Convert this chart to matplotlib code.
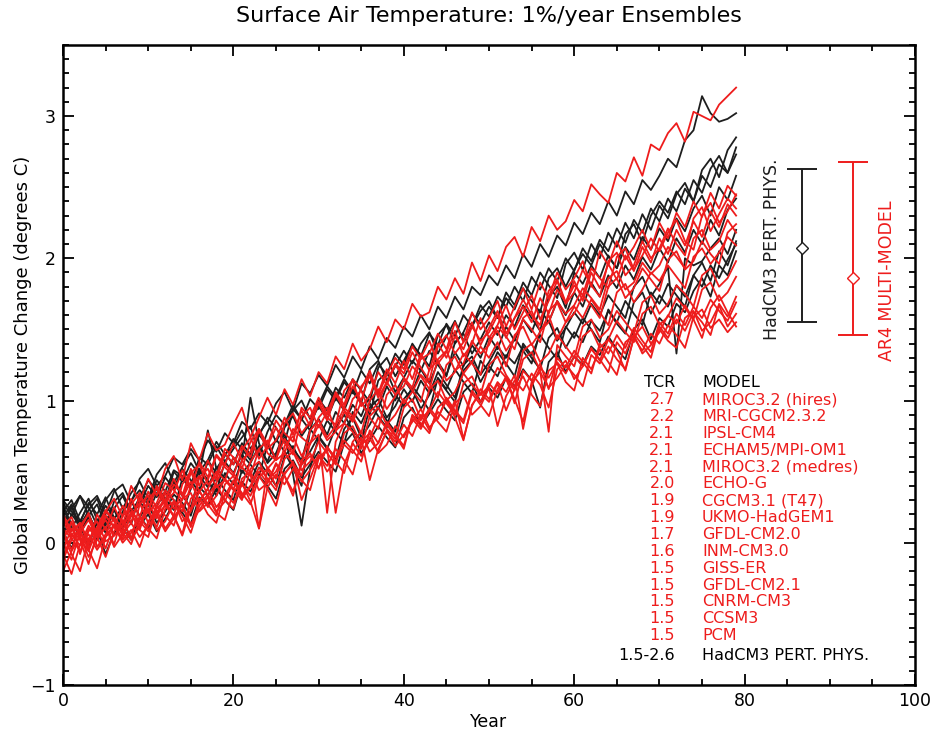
import numpy as np
import matplotlib.pyplot as plt
from matplotlib.ticker import MultipleLocator

plt.rc('font', family='DejaVu Sans')

years = np.arange(80)

# AR4 multi-model 1%/yr runs (red)
miroc_hires = [0.08, -0.05, 0.12, 0.20, 0.06, 0.22, 0.31, 0.18, 0.40, 0.29,
               0.45, 0.33, 0.52, 0.61, 0.44, 0.70, 0.58, 0.77, 0.65, 0.69,
               0.83, 0.95, 0.74, 0.88, 1.02, 0.90, 1.08, 0.97, 1.15, 1.03,
               1.20, 1.12, 1.31, 1.22, 1.40, 1.28, 1.36, 1.52, 1.41, 1.57,
               1.50, 1.68, 1.59, 1.62, 1.80, 1.71, 1.86, 1.75, 1.97, 1.84,
               2.02, 1.91, 2.08, 2.15, 2.01, 2.22, 2.12, 2.30, 2.20, 2.26,
               2.41, 2.33, 2.52, 2.45, 2.39, 2.60, 2.54, 2.71, 2.58, 2.80,
               2.76, 2.88, 2.95, 2.82, 3.03, 3.00, 2.97, 3.08, 3.14, 3.20]
mri_cgcm = [0.02, 0.15, -0.08, 0.10, 0.04, 0.19, 0.11, 0.26, 0.14, 0.33,
            0.22, 0.40, 0.29, 0.35, 0.51, 0.38, 0.57, 0.46, 0.62, 0.55,
            0.70, 0.58, 0.64, 0.80, 0.69, 0.86, 0.77, 0.71, 0.95, 0.88,
            1.02, 0.90, 1.06, 0.97, 1.15, 1.08, 1.21, 1.04, 1.18, 1.30,
            1.22, 1.38, 1.29, 1.33, 1.47, 1.36, 1.55, 1.41, 1.62, 1.50,
            1.58, 1.70, 1.52, 1.66, 1.79, 1.64, 1.83, 1.72, 1.90, 1.78,
            1.86, 1.98, 1.80, 2.05, 1.95, 2.12, 1.99, 2.08, 2.20, 2.06,
            2.25, 2.14, 2.32, 2.22, 2.40, 2.29, 2.46, 2.35, 2.51, 2.44]
ipsl_cm4 = [-0.10, 0.05, 0.14, -0.02, 0.20, 0.09, 0.25, 0.13, 0.31, 0.18,
            0.36, 0.24, 0.30, 0.45, 0.33, 0.52, 0.40, 0.58, 0.44, 0.63,
            0.55, 0.68, 0.60, 0.79, 0.66, 0.72, 0.88, 0.76, 0.93, 0.82,
            0.98, 0.86, 1.04, 0.95, 1.10, 1.00, 1.18, 1.05, 1.22, 1.12,
            1.28, 1.15, 1.33, 1.21, 1.40, 1.30, 1.45, 1.36, 1.52, 1.42,
            1.48, 1.60, 1.44, 1.58, 1.66, 1.55, 1.72, 1.61, 1.78, 1.69,
            1.84, 1.70, 1.90, 1.79, 1.96, 1.85, 2.02, 1.91, 2.08, 1.97,
            2.14, 2.03, 2.20, 2.09, 2.26, 2.15, 2.33, 2.22, 2.38, 2.30]
echam5 = [0.12, 0.18, 0.03, -0.06, 0.10, 0.22, 0.15, 0.08, 0.27, 0.35,
          0.21, 0.28, 0.42, 0.37, 0.30, 0.49, 0.55, 0.41, 0.47, 0.66,
          0.60, 0.52, 0.71, 0.80, 0.63, 0.58, 0.84, 0.91, 0.77, 0.85,
          0.99, 0.88, 0.83, 1.07, 1.14, 0.96, 1.03, 1.20, 1.11, 1.25,
          1.16, 1.09, 1.30, 1.42, 1.26, 1.34, 1.49, 1.31, 1.40, 1.58,
          1.44, 1.53, 1.67, 1.50, 1.62, 1.74, 1.57, 1.70, 1.84, 1.68,
          1.76, 1.92, 1.81, 1.73, 1.98, 2.04, 1.88, 1.95, 2.12, 2.00,
          2.07, 2.21, 2.10, 2.02, 2.28, 2.36, 2.19, 2.31, 2.42, 2.35]
miroc_medres = [0.00, -0.12, 0.07, 0.16, 0.04, 0.11, -0.01, 0.19, 0.24, 0.12,
                0.30, 0.38, 0.26, 0.19, 0.41, 0.50, 0.36, 0.44, 0.61, 0.53,
                0.47, 0.65, 0.74, 0.59, 0.68, 0.81, 0.70, 0.62, 0.89, 0.95,
                0.81, 0.92, 1.05, 0.93, 0.87, 1.10, 1.17, 1.02, 1.13, 1.26,
                1.19, 1.34, 1.23, 1.14, 1.38, 1.46, 1.33, 1.41, 1.55, 1.39,
                1.51, 1.63, 1.47, 1.58, 1.71, 1.60, 1.53, 1.77, 1.85, 1.69,
                1.81, 1.74, 1.93, 1.86, 1.79, 2.01, 2.07, 1.92, 2.02, 2.14,
                2.05, 2.18, 2.27, 2.12, 2.06, 2.30, 2.39, 2.25, 2.33, 2.45]
echo_g = [0.15, 0.04, 0.09, 0.21, -0.03, 0.06, 0.18, 0.10, 0.02, 0.27,
          0.33, 0.20, 0.26, 0.41, 0.35, 0.23, 0.46, 0.52, 0.39, 0.44,
          0.60, 0.53, 0.47, 0.66, 0.72, 0.58, 0.63, 0.80, 0.74, 0.69,
          0.88, 0.95, 0.79, 0.84, 1.01, 1.07, 0.92, 0.98, 1.13, 1.04,
          1.10, 1.24, 1.17, 1.08, 1.29, 1.35, 1.21, 1.26, 1.42, 1.33,
          1.39, 1.52, 1.45, 1.36, 1.58, 1.63, 1.49, 1.55, 1.70, 1.61,
          1.67, 1.79, 1.72, 1.64, 1.86, 1.91, 1.78, 1.83, 1.97, 1.89,
          1.95, 2.08, 2.01, 1.93, 2.14, 2.20, 2.06, 2.12, 2.27, 2.18]
cgcm31 = [-0.05, 0.10, 0.02, -0.15, 0.08, 0.16, 0.05, 0.12, 0.21, 0.09,
          0.28, 0.17, 0.35, 0.24, 0.31, 0.43, 0.29, 0.38, 0.50, 0.44,
          0.37, 0.58, 0.49, 0.10, 0.53, 0.45, 0.68, 0.75, 0.61, 0.70,
          0.83, 0.72, 0.78, 0.92, 0.85, 0.99, 0.88, 0.80, 1.04, 1.11,
          0.98, 1.06, 1.18, 1.12, 1.02, 1.25, 1.31, 1.19, 1.27, 1.38,
          1.30, 1.41, 1.24, 1.46, 1.52, 1.39, 1.48, 1.60, 1.43, 1.55,
          1.66, 1.58, 1.71, 1.62, 1.53, 1.76, 1.82, 1.69, 1.78, 1.90,
          1.84, 1.95, 1.87, 1.79, 2.01, 2.07, 1.96, 2.04, 2.15, 2.09]
ukmo_hadgem1 = [0.20, 0.08, 0.14, 0.01, 0.11, 0.23, 0.16, 0.05, 0.19, 0.28,
                0.14, 0.25, 0.37, 0.30, 0.22, 0.40, 0.47, 0.33, 0.42, 0.55,
                0.49, 0.40, 0.57, 0.66, 0.52, 0.59, 0.73, 0.64, 0.56, 0.79,
                0.86, 0.74, 0.82, 0.95, 0.89, 0.77, 1.00, 1.08, 0.94, 1.03,
                1.15, 1.07, 0.99, 1.22, 1.28, 1.14, 1.20, 1.33, 1.26, 1.18,
                1.42, 1.49, 1.35, 1.44, 1.57, 1.50, 1.41, 1.63, 1.69, 1.55,
                1.61, 1.74, 1.67, 1.58, 1.80, 1.86, 1.72, 1.79, 1.93, 1.85,
                1.77, 1.99, 2.05, 1.92, 1.98, 2.12, 2.03, 1.96, 2.18, 2.24]
gfdl_cm20 = [0.06, -0.08, -0.20, 0.03, 0.10, -0.04, 0.13, 0.07, -0.01, 0.16,
             0.22, 0.11, 0.28, 0.19, 0.06, 0.31, 0.37, 0.25, 0.33, 0.45,
             0.38, 0.30, 0.52, 0.57, 0.44, 0.50, 0.63, 0.56, 0.47, 0.70,
             0.76, 0.21, 0.71, 0.84, 0.78, 0.66, 0.89, 0.95, 0.83, 0.90,
             1.01, 0.93, 0.86, 1.08, 1.14, 1.00, 1.06, 1.19, 1.11, 1.04,
             1.25, 1.31, 1.18, 1.09, 1.35, 1.40, 1.27, 1.33, 1.46, 1.38,
             1.30, 1.52, 1.57, 1.44, 1.50, 1.63, 1.55, 1.47, 1.69, 1.74,
             1.61, 1.68, 1.81, 1.75, 1.66, 1.88, 1.93, 1.80, 1.86, 1.98]
inm_cm30 = [-0.12, 0.02, 0.09, -0.05, -0.18, 0.04, 0.12, 0.00, 0.07, 0.18,
            0.10, 0.03, 0.24, 0.29, 0.15, 0.22, 0.36, 0.27, 0.19, 0.41,
            0.47, 0.33, 0.40, 0.53, 0.45, 0.37, 0.59, 0.64, 0.51, 0.57,
            0.71, 0.63, 0.55, 0.77, 0.82, 0.69, 0.74, 0.88, 0.80, 0.73,
            0.95, 1.01, 0.87, 0.93, 1.06, 0.98, 0.90, 1.12, 1.17, 1.04,
            1.10, 1.23, 1.16, 1.07, 1.29, 1.34, 1.21, 0.78, 1.39, 1.31,
            1.24, 1.45, 1.50, 1.37, 1.43, 1.56, 1.48, 1.41, 1.61, 1.66,
            1.53, 1.59, 1.72, 1.65, 1.57, 1.78, 1.83, 1.70, 1.76, 1.87]
giss_er = [0.10, 0.03, -0.06, 0.08, 0.15, 0.01, 0.05, 0.13, 0.20, 0.09,
           0.04, 0.26, 0.19, 0.12, 0.31, 0.35, 0.22, 0.28, 0.41, 0.30,
           0.24, 0.45, 0.50, 0.37, 0.42, 0.55, 0.47, 0.33, 0.58, 0.63,
           0.52, 0.68, 0.57, 0.49, 0.71, 0.78, 0.64, 0.70, 0.83, 0.75,
           0.66, 0.90, 0.84, 0.77, 0.95, 1.01, 0.88, 0.72, 0.97, 1.05,
           0.99, 1.12, 0.93, 1.08, 1.17, 1.04, 0.96, 1.21, 1.26, 1.13,
           1.07, 1.30, 1.22, 1.36, 1.27, 1.18, 1.41, 1.46, 1.33, 1.39,
           1.50, 1.42, 1.37, 1.58, 1.63, 1.49, 1.55, 1.67, 1.52, 1.61]
gfdl_cm21 = [-0.20, -0.06, 0.05, -0.10, 0.02, 0.11, -0.03, 0.06, 0.14, 0.04,
             0.12, 0.20, 0.08, 0.17, 0.27, 0.13, 0.23, 0.32, 0.21, 0.16,
             0.36, 0.42, 0.29, 0.10, 0.39, 0.48, 0.41, 0.52, 0.44, 0.37,
             0.59, 0.66, 0.21, 0.55, 0.70, 0.61, 0.73, 0.64, 0.79, 0.68,
             0.76, 0.85, 0.94, 0.81, 0.88, 1.00, 0.92, 0.84, 1.05, 0.97,
             0.89, 1.08, 1.15, 1.01, 0.85, 1.13, 1.20, 1.09, 1.16, 1.25,
             1.18, 1.10, 1.32, 1.26, 1.38, 1.29, 1.22, 1.44, 1.35, 1.47,
             1.40, 1.53, 1.46, 1.37, 1.59, 1.64, 1.51, 1.57, 1.48, 1.55]
cnrm_cm3 = [0.18, 0.06, -0.02, 0.12, 0.04, -0.10, 0.08, 0.16, 0.03, 0.11,
            0.24, 0.09, 0.15, 0.28, 0.19, 0.07, 0.26, 0.34, 0.22, 0.29,
            0.43, 0.35, 0.27, 0.46, 0.52, 0.40, 0.48, 0.57, 0.30, 0.45,
            0.61, 0.54, 0.66, 0.58, 0.48, 0.71, 0.77, 0.63, 0.69, 0.82,
            0.74, 0.87, 0.80, 0.93, 0.85, 0.78, 0.98, 1.04, 0.90, 0.96,
            1.09, 0.82, 1.03, 1.14, 1.07, 1.19, 1.11, 0.95, 1.22, 1.28,
            1.15, 1.24, 1.36, 1.29, 1.20, 1.41, 1.33, 1.47, 1.39, 1.30,
            1.52, 1.44, 1.57, 1.49, 1.62, 1.55, 1.46, 1.68, 1.59, 1.73]
ccsm3 = [0.02, 0.14, 0.07, -0.04, 0.09, 0.19, 0.11, 0.03, 0.22, 0.15,
         0.08, 0.21, 0.30, 0.18, 0.26, 0.11, 0.29, 0.38, 0.25, 0.33,
         0.44, 0.31, 0.39, 0.50, 0.42, 0.56, 0.47, 0.36, 0.55, 0.61,
         0.53, 0.67, 0.60, 0.72, 0.65, 0.57, 0.79, 0.70, 0.85, 0.76,
         0.68, 0.89, 0.82, 0.95, 0.87, 1.02, 0.93, 0.86, 1.07, 0.99,
         1.12, 1.05, 1.17, 0.98, 1.21, 1.14, 1.26, 1.08, 1.30, 1.23,
         1.35, 1.27, 1.19, 1.40, 1.33, 1.46, 1.37, 1.51, 1.42, 1.34,
         1.55, 1.47, 1.61, 1.53, 1.66, 1.58, 1.71, 1.63, 1.56, 1.69]
pcm = [-0.08, -0.22, -0.01, 0.06, -0.05, 0.04, 0.13, 0.02, 0.09, -0.03,
       0.15, 0.23, 0.10, 0.19, 0.05, 0.24, 0.31, 0.20, 0.14, 0.35,
       0.28, 0.41, 0.33, 0.47, 0.38, 0.26, 0.49, 0.55, 0.43, 0.51,
       0.62, 0.50, 0.58, 0.69, 0.63, 0.74, 0.44, 0.66, 0.78, 0.71,
       0.83, 0.75, 0.90, 0.79, 0.92, 0.86, 1.00, 0.73, 0.96, 1.08,
       1.01, 1.13, 1.06, 1.18, 0.80, 1.10, 1.23, 1.16, 1.27, 1.19,
       1.31, 1.24, 1.37, 1.28, 1.43, 1.35, 1.21, 1.45, 1.52, 1.40,
       1.48, 1.60, 1.54, 1.67, 1.57, 1.44, 1.65, 1.74, 1.62, 1.52]

# HadCM3 perturbed physics members (black)
hadcm3_pp01 = [0.22, 0.30, 0.15, 0.27, 0.33, 0.20, 0.36, 0.41, 0.28, 0.45,
               0.52, 0.40, 0.47, 0.60, 0.55, 0.66, 0.58, 0.72, 0.64, 0.77,
               0.70, 0.85, 0.80, 0.91, 0.84, 0.98, 1.06, 0.93, 1.12, 1.05,
               1.18, 1.10, 1.25, 1.16, 1.31, 1.22, 1.38, 1.29, 1.44, 1.37,
               1.52, 1.45, 1.60, 1.50, 1.66, 1.58, 1.73, 1.64, 1.80, 1.74,
               1.88, 1.81, 1.95, 1.86, 2.03, 1.94, 2.10, 2.01, 2.16, 2.09,
               2.25, 2.17, 2.32, 2.24, 2.40, 2.30, 2.47, 2.38, 2.55, 2.48,
               2.58, 2.70, 2.64, 2.83, 2.90, 3.14, 3.02, 2.96, 2.98, 3.02]
hadcm3_pp02 = [0.28, 0.19, 0.33, 0.25, 0.12, 0.30, 0.38, 0.24, 0.35, 0.43,
               0.31, 0.48, 0.56, 0.42, 0.53, 0.63, 0.50, 0.58, 0.71, 0.62,
               0.68, 0.79, 0.66, 0.75, 0.88, 0.81, 0.70, 0.93, 1.00, 0.87,
               0.97, 1.10, 1.02, 1.15, 1.06, 0.98, 1.22, 1.28, 1.14, 1.24,
               1.35, 1.26, 1.40, 1.48, 1.33, 1.45, 1.56, 1.42, 1.52, 1.63,
               1.70, 1.58, 1.76, 1.67, 1.83, 1.74, 1.90, 1.81, 1.72, 1.96,
               2.04, 1.92, 2.10, 2.00, 2.18, 2.08, 2.25, 2.14, 2.31, 2.20,
               2.37, 2.28, 2.45, 2.53, 2.40, 2.62, 2.70, 2.57, 2.76, 2.85]
hadcm3_pp03 = [0.05, 0.20, 0.12, -0.02, 0.15, 0.26, 0.18, 0.09, 0.30, 0.37,
               0.29, 0.44, 0.36, 0.51, 0.47, 0.40, 0.60, 0.55, 0.68, 0.57,
               0.66, 0.74, 0.82, 0.61, 0.78, 0.90, 0.83, 0.97, 0.86, 1.01,
               0.94, 1.08, 1.00, 1.13, 1.05, 1.21, 1.12, 1.26, 1.18, 1.33,
               1.25, 1.40, 1.31, 1.47, 1.39, 1.54, 1.45, 1.60, 1.52, 1.67,
               1.59, 1.73, 1.66, 1.80, 1.70, 1.87, 1.78, 1.93, 1.84, 2.00,
               1.91, 2.07, 1.98, 2.13, 2.05, 2.21, 2.11, 2.27, 2.18, 2.35,
               2.26, 2.42, 2.33, 2.49, 2.40, 2.58, 2.50, 2.66, 2.60, 2.73]
hadcm3_pp04 = [0.25, 0.10, 0.21, 0.31, 0.16, 0.07, 0.24, 0.33, 0.20, 0.27,
               0.40, 0.32, 0.46, 0.38, 0.52, 0.44, 0.35, 0.58, 0.49, 0.63,
               0.55, 0.70, 0.62, 0.76, 0.68, 0.59, 0.81, 0.89, 0.75, 0.84,
               0.96, 0.87, 1.02, 0.93, 1.08, 0.99, 0.90, 1.14, 1.20, 1.06,
               1.16, 1.28, 1.21, 1.35, 1.25, 1.17, 1.41, 1.47, 1.33, 1.43,
               1.55, 1.46, 1.60, 1.52, 1.67, 1.58, 1.49, 1.73, 1.80, 1.65,
               1.90, 1.82, 1.95, 1.86, 2.02, 1.93, 2.08, 1.99, 2.15, 2.06,
               2.21, 2.12, 2.28, 2.19, 2.35, 2.44, 2.30, 2.50, 2.41, 2.58]
hadcm3_pp05 = [0.12, 0.26, 0.08, 0.18, 0.02, 0.14, 0.23, 0.11, 0.19, 0.29,
               0.21, 0.35, 0.27, 0.42, 0.33, 0.25, 0.47, 0.39, 0.53, 0.45,
               0.60, 0.49, 0.56, 0.68, 0.57, 0.73, 0.64, 0.52, 0.40, 0.79,
               0.87, 0.76, 0.92, 0.84, 0.97, 0.89, 1.04, 0.94, 1.10, 1.00,
               1.15, 1.06, 1.22, 1.12, 1.27, 1.18, 1.34, 1.24, 1.39, 1.30,
               1.45, 1.36, 1.52, 1.42, 1.57, 1.48, 1.64, 1.55, 1.70, 1.60,
               1.76, 1.66, 1.83, 1.73, 1.88, 1.79, 1.95, 1.85, 2.01, 1.92,
               2.07, 1.97, 2.14, 2.04, 2.20, 2.10, 2.27, 2.16, 2.34, 2.42]
hadcm3_pp06 = [0.30, 0.22, 0.14, 0.28, 0.20, 0.32, 0.17, 0.25, 0.13, 0.34,
               0.27, 0.40, 0.31, 0.23, 0.45, 0.38, 0.50, 0.43, 0.36, 0.57,
               0.49, 0.62, 0.55, 0.47, 0.69, 0.60, 0.74, 0.66, 0.58, 0.80,
               0.72, 0.86, 0.78, 0.70, 0.92, 0.84, 0.98, 0.89, 0.81, 1.04,
               0.96, 1.10, 1.02, 0.93, 1.16, 1.08, 1.22, 1.13, 1.05, 1.28,
               1.20, 1.34, 1.26, 1.17, 1.40, 1.32, 1.46, 1.37, 1.29, 1.52,
               1.44, 1.58, 1.50, 1.41, 1.64, 1.55, 1.70, 1.61, 1.53, 1.76,
               1.68, 1.82, 1.74, 1.66, 1.88, 1.80, 1.95, 1.86, 1.99, 2.10]
hadcm3_pp07 = [0.18, 0.27, 0.11, 0.23, 0.31, 0.15, 0.06, 0.22, 0.29, 0.19,
               0.10, 0.26, 0.35, 0.30, 0.21, 0.38, 0.52, 0.44, 0.33, 0.49,
               0.41, 0.58, 1.02, 0.70, 0.56, 0.63, 0.77, 0.48, 0.12, 0.52,
               0.74, 0.66, 0.81, 0.90, 0.79, 0.72, 0.95, 1.01, 0.88, 0.96,
               1.08, 0.99, 1.14, 1.05, 1.20, 1.11, 1.02, 1.25, 1.31, 1.18,
               1.27, 1.38, 1.30, 1.44, 1.35, 1.26, 1.49, 1.56, 1.42, 1.51,
               1.62, 1.54, 1.68, 1.60, 1.74, 1.66, 1.58, 1.80, 1.87, 1.73,
               1.82, 1.94, 1.33, 2.00, 1.95, 1.98, 2.07, 2.14, 2.03, 2.20]
hadcm3_pp08 = [0.08, -0.04, 0.13, 0.21, 0.05, 0.16, 0.24, 0.10, 0.02, 0.18,
               0.27, 0.14, 0.22, 0.34, 0.28, 0.19, 0.39, 0.33, 0.46, 0.37,
               0.30, 0.51, 0.43, 0.57, 0.49, 0.40, 0.61, 0.68, 0.55, 0.64,
               0.75, 0.67, 0.59, 0.80, 0.88, 0.74, 0.83, 0.95, 0.86, 0.78,
               1.01, 1.08, 0.94, 1.04, 1.15, 1.07, 0.99, 1.21, 1.28, 1.13,
               1.24, 1.17, 1.32, 1.26, 1.38, 1.30, 1.22, 1.44, 1.51, 1.37,
               1.48, 1.41, 1.56, 1.49, 1.63, 1.54, 1.47, 1.69, 1.76, 1.61,
               1.74, 1.66, 1.81, 1.73, 1.88, 1.97, 1.84, 2.05, 1.95, 2.12]
hadcm3_pp09 = [0.15, 0.24, 0.33, 0.19, 0.27, 0.12, 0.29, 0.35, 0.22, 0.31,
               0.44, 0.37, 0.29, 0.50, 0.43, 0.56, 0.48, 0.79, 0.52, 0.61,
               0.73, 0.66, 0.58, 0.77, 0.85, 0.71, 0.82, 0.94, 0.87, 0.79,
               1.01, 0.93, 1.09, 1.02, 1.15, 1.07, 0.99, 1.23, 1.30, 1.17,
               1.28, 1.39, 1.32, 1.24, 1.46, 1.53, 1.40, 1.48, 1.61, 1.54,
               1.66, 1.58, 1.72, 1.64, 1.79, 1.70, 1.62, 1.86, 1.93, 1.80,
               1.92, 2.03, 1.95, 2.10, 2.01, 1.93, 2.17, 2.24, 2.11, 2.30,
               2.40, 2.32, 2.47, 2.38, 2.55, 2.46, 2.63, 2.72, 2.60, 2.78]
hadcm3_pp10 = [0.26, 0.13, 0.05, 0.19, 0.09, -0.08, 0.07, 0.15, 0.03, 0.12,
               0.20, 0.08, 0.17, 0.28, 0.21, 0.13, 0.32, 0.26, 0.38, 0.30,
               0.23, 0.43, 0.36, 0.47, 0.40, 0.31, 0.52, 0.58, 0.46, 0.55,
               0.64, 0.57, 0.50, 0.70, 0.77, 0.63, 0.72, 0.82, 0.74, 0.67,
               0.88, 0.95, 0.82, 0.91, 1.01, 0.93, 0.86, 1.06, 1.12, 0.99,
               1.09, 1.02, 1.16, 1.10, 1.22, 1.14, 0.95, 1.27, 1.34, 1.20,
               1.31, 1.25, 1.38, 1.32, 1.45, 1.36, 1.29, 1.50, 1.57, 1.43,
               1.58, 1.52, 1.68, 1.62, 1.77, 1.86, 1.73, 1.95, 1.88, 2.05]

red_runs = [miroc_hires, mri_cgcm, ipsl_cm4, echam5, miroc_medres, echo_g,
            cgcm31, ukmo_hadgem1, gfdl_cm20, inm_cm30, giss_er, gfdl_cm21,
            cnrm_cm3, ccsm3, pcm]
black_runs = [hadcm3_pp01, hadcm3_pp02, hadcm3_pp03, hadcm3_pp04, hadcm3_pp05,
              hadcm3_pp06, hadcm3_pp07, hadcm3_pp08, hadcm3_pp09, hadcm3_pp10]

# legend table
tcr_labels = ['2.7', '2.2', '2.1', '2.1', '2.1', '2.0', '1.9', '1.9', '1.7',
              '1.6', '1.5', '1.5', '1.5', '1.5', '1.5']
model_labels = ['MIROC3.2 (hires)', 'MRI-CGCM2.3.2', 'IPSL-CM4', 'ECHAM5/MPI-OM1',
                'MIROC3.2 (medres)', 'ECHO-G', 'CGCM3.1 (T47)', 'UKMO-HadGEM1',
                'GFDL-CM2.0', 'INM-CM3.0', 'GISS-ER', 'GFDL-CM2.1', 'CNRM-CM3',
                'CCSM3', 'PCM']

# TCR ranges shown as bars: (center, low, high)
ppe_range = (2.07, 1.55, 2.63)
mme_range = (1.86, 1.46, 2.68)

RED = '#ee1c1c'
BLACK = '#1e1e1e'
FS = 11.5

fig = plt.figure(figsize=(9.32, 7.34), dpi=100)
ax = fig.add_axes([0.0676, 0.0668, 0.9142, 0.872])

for run in black_runs:
    ax.plot(years, run, color=BLACK, lw=1.3)
for run in red_runs:
    ax.plot(years, run, color=RED, lw=1.3)

# range bars
for xpos, (c, lo, hi), col in [(86.7, ppe_range, BLACK), (92.7, mme_range, RED)]:
    ax.errorbar([xpos], [c], yerr=[[c - lo], [hi - c]], fmt='D', color=col,
                mfc='white', mec=col, ms=6, capsize=11, elinewidth=1.4,
                capthick=1.4)
ax.text(83.2, 2.06, 'HadCM3 PERT. PHYS.', rotation=90, ha='center', va='center',
        fontsize=12.5, color=BLACK)
ax.text(96.7, 1.84, 'AR4 MULTI-MODEL', rotation=90, ha='center', va='center',
        fontsize=12.5, color=RED)

# TCR / model table
row_y0 = 1.006
row_dy = 0.1185
ax.text(71.8, 1.13, 'TCR', ha='right', va='center', fontsize=FS, color='black')
ax.text(75.0, 1.13, 'MODEL', ha='left', va='center', fontsize=FS, color='black')
for i, (t, m) in enumerate(zip(tcr_labels, model_labels)):
    yy = row_y0 - i * row_dy
    ax.text(71.8, yy, t, ha='right', va='center', fontsize=FS, color=RED)
    ax.text(75.0, yy, m, ha='left', va='center', fontsize=FS, color=RED)
ax.text(71.8, -0.79, '1.5-2.6', ha='right', va='center', fontsize=FS, color='black')
ax.text(75.0, -0.79, 'HadCM3 PERT. PHYS.', ha='left', va='center', fontsize=FS,
        color='black')

ax.set_xlim(0, 100)
ax.set_ylim(-1, 3.5)
ax.xaxis.set_major_locator(MultipleLocator(20))
ax.xaxis.set_minor_locator(MultipleLocator(5))
ax.yaxis.set_major_locator(MultipleLocator(1))
ax.yaxis.set_minor_locator(MultipleLocator(0.1))
ax.tick_params(which='both', direction='in', top=True, right=True, width=1.3,
               labelsize=12.5)
ax.tick_params(which='major', length=8, pad=5)
ax.tick_params(which='minor', length=4)
for sp in ax.spines.values():
    sp.set_linewidth(1.8)

ax.set_xlabel('Year', fontsize=12.5, labelpad=2)
ax.set_ylabel('Global Mean Temperature Change (degrees C)', fontsize=13)
ax.yaxis.set_label_coords(-0.036, 0.5)
fig.suptitle('Surface Air Temperature: 1%/year Ensembles', fontsize=16,
             x=0.525, y=0.992)

plt.savefig('out.png', dpi=100)
